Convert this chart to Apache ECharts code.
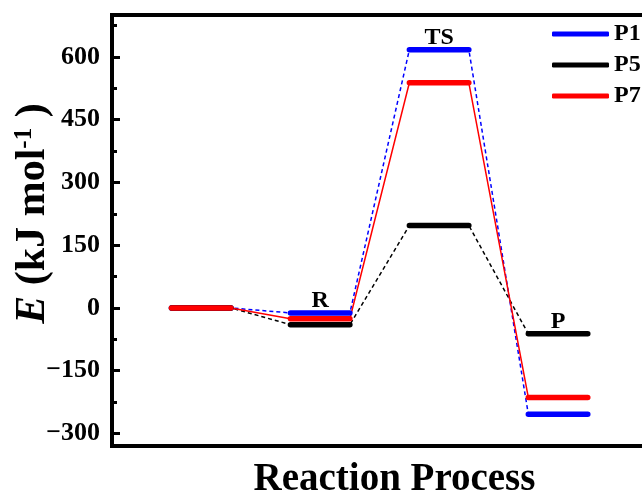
<!DOCTYPE html>
<html>
<head>
<meta charset="utf-8">
<script src="https://cdn.jsdelivr.net/npm/echarts@6/dist/echarts.min.js"></script>
<style>html,body{margin:0;padding:0;background:#fff;}#c{width:642px;height:498px;}</style>
</head>
<body>
<div id="c"></div>
<script>
// Stages along the reaction coordinate
const stages = ['Start', 'R', 'TS', 'P'];
const levelStart = [1, 3, 5, 7];
const levelEnd = [2, 4, 6, 8];
// Energies (kJ/mol) per stage
const P1 = [0, -12, 617, -254];
const P5 = [0, -40, 197, -62];
const P7 = [0, -26, 538, -214];
// Axis ticks
const yTicks = [-300, -150, 0, 150, 300, 450, 600];
const yMinorTicks = [-225, -75, 75, 225, 375, 525, 675];
const stageLabels = ['R', 'TS', 'P'];

const FONT = '"Liberation Serif", "Times New Roman", serif';
const colors = { P1: '#0000ff', P5: '#000000', P7: '#ff0000' };
const sets = { P1: P1, P5: P5, P7: P7 };
const dashes = { P1: [4, 3], P5: [4, 3], P7: 'solid' };

function levelData(v) {
  const d = [];
  v.forEach((y, i) => {
    if (i > 0) d.push('-');
    d.push([levelStart[i], y], [levelEnd[i], y]);
  });
  return d;
}
function pathData(v) {
  const d = [];
  v.forEach((y, i) => { d.push([levelStart[i], y], [levelEnd[i], y]); });
  return d;
}

const series = [];
['P1', 'P5', 'P7'].forEach(n => {
  series.push({
    name: n, type: 'line', data: pathData(sets[n]), showSymbol: false, z: 2,
    color: colors[n],
    lineStyle: { color: colors[n], width: 1.5, type: dashes[n] }
  });
});
['P1', 'P5', 'P7'].forEach(n => {
  series.push({
    name: n, type: 'line', data: levelData(sets[n]), showSymbol: false, z: 3,
    color: colors[n], connectNulls: false,
    lineStyle: { color: colors[n], width: 5.5, cap: 'round' }
  });
});
series.push({
  name: 'labels', type: 'scatter', symbolSize: 0, z: 4,
  itemStyle: { opacity: 1 },
  data: stageLabels.map((t, k) => {
    const i = k + 1;
    return { name: t, value: [(levelStart[i] + levelEnd[i]) / 2, Math.max(P1[i], P5[i], P7[i])] };
  }),
  label: {
    show: true, position: 'top', distance: 0, formatter: p => p.name, opacity: 1,
    fontFamily: FONT, fontWeight: 'bold', fontSize: 24, color: '#000'
  }
});

const chart = echarts.init(document.getElementById('c'), null, { renderer: 'canvas' });
chart.setOption({
  animation: false,
  backgroundColor: '#fff',
  grid: { left: 112, top: 15, width: 565, height: 431, outerBoundsMode: 'none', containLabel: false, show: true, borderColor: '#000', borderWidth: 4, backgroundColor: 'transparent' },
  legend: {
    data: ['P1', 'P5', 'P7'], orient: 'vertical', left: 547, top: 17,
    itemWidth: 57, itemHeight: 5, itemGap: 7, icon: 'roundRect',
    textStyle: { fontFamily: FONT, fontWeight: 'bold', fontSize: 24, color: '#000' }
  },
  xAxis: {
    type: 'value', min: 0, max: 9.5,
    axisLine: { show: false }, axisTick: { show: false }, axisLabel: { show: false }, splitLine: { show: false },
    name: 'Reaction Process', nameLocation: 'middle', nameGap: 14, nameMoveOverlap: false,
    nameTextStyle: { fontFamily: FONT, fontWeight: 'bold', fontSize: 39, color: '#000' }
  },
  yAxis: [{
    type: 'value', min: -330, max: 700,
    axisLine: { show: false }, splitLine: { show: false },
    axisTick: { show: true, inside: true, length: 8, lineStyle: { width: 3, color: '#000' }, customValues: yTicks },
    axisLabel: {
      customValues: yTicks, margin: 12, fontFamily: FONT, fontWeight: 'bold', fontSize: 26, color: '#000',
      formatter: v => String(v).replace('-', '\u2212')
    },
    name: '{i|E} {b|(kJ mol}{s|-1}{b| )}', nameLocation: 'middle', nameGap: 58, nameMoveOverlap: false,
    nameTextStyle: {
      fontFamily: FONT, fontWeight: 'bold', fontSize: 42, color: '#000', padding: [0, 0, 0, 34],
      rich: {
        i: { fontFamily: FONT, fontWeight: 'bold', fontStyle: 'italic', fontSize: 42, color: '#000' },
        b: { fontFamily: FONT, fontWeight: 'bold', fontSize: 42, color: '#000' },
        s: { fontFamily: FONT, fontWeight: 'bold', fontSize: 25, color: '#000', verticalAlign: 'top' }
      }
    }
  }, {
    type: 'value', min: -330, max: 700, position: 'left',
    axisLine: { show: false }, splitLine: { show: false }, axisLabel: { show: false },
    axisTick: { show: true, inside: true, length: 5, lineStyle: { width: 3, color: '#000' }, customValues: yMinorTicks }
  }],
  series: series
});
</script>
</body>
</html>
